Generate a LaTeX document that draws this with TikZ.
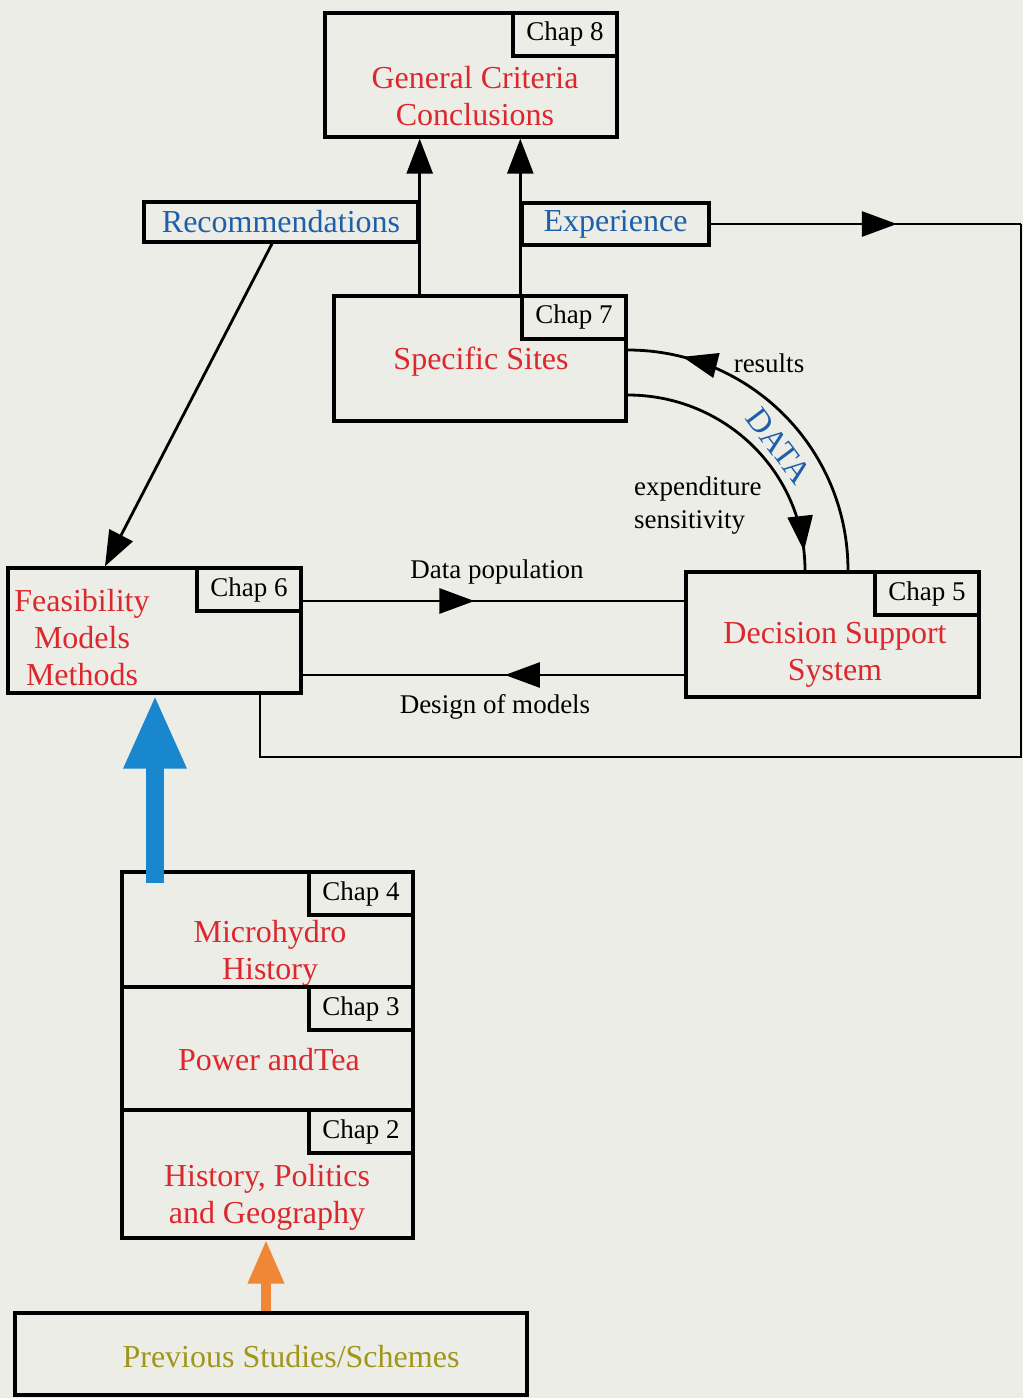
\documentclass[tikz,border=0pt]{standalone}
\usepackage{fontspec}
\setmainfont{Liberation Serif}
\usetikzlibrary{positioning,arrows.meta,decorations.markings}
\definecolor{paper}{RGB}{237,237,231}
\definecolor{titlered}{RGB}{220,40,45}
\definecolor{noteblue}{RGB}{30,95,170}
\definecolor{bigblue}{RGB}{25,135,205}
\definecolor{bigorange}{RGB}{240,135,55}
\definecolor{olive}{RGB}{160,150,25}

\begin{document}
\begin{tikzpicture}[x=0.5pt, y=-0.5pt,
	box/.style = {draw, line width=1.7pt, inner sep=0pt},
	chap/.style = {draw, line width=1.7pt, inner sep=0pt, minimum width=52pt, minimum height=21.5pt, font=\fontsize{13.5}{16}\selectfont},
	title/.style = {align=center, text=titlered, font=\fontsize{16}{18.5}\selectfont},
	note/.style = {box, text=noteblue, font=\fontsize{16}{18.5}\selectfont},
	lbl/.style = {font=\fontsize{13.5}{16.5}\selectfont},
	conn/.style = {line width=1.4pt},
	flow/.style = {conn, -{Triangle[length=17.5pt, width=13pt]}},
	mid/.style = {conn, postaction={decorate}, decoration={markings, mark=at position #1 with {\arrow{Triangle[length=17.5pt, width=12.5pt]}}}},
	midback/.style = {conn, postaction={decorate}, decoration={markings, mark=at position #1 with {\arrowreversed{Triangle[length=17.5pt, width=12.5pt]}}}}]
	\fill[paper] (0,0) rectangle (1023,1398);
	\useasboundingbox (0,0) rectangle (1023,1398);

	\node[box, minimum width=146pt, minimum height=62pt] (c8) at (471,75) {};
	\node[chap] (k8) [below left=0pt of c8.north east] {Chap 8};
	\node[title] (t8) at (475,96) {General Criteria\\Conclusions};

	\node[note, minimum width=137pt, minimum height=20pt] (rec) at (281,222) {Recommendations};
	\node[note, minimum width=93.5pt, minimum height=21pt] (exp) at (615.5,224) {Experience};

	\node[box, minimum width=146pt, minimum height=62.5pt] (c7) at (480,358.5) {};
	\node[chap] (k7) [below left=0pt of c7.north east] {Chap 7};
	\node[title] (t7) at (481,362) {Specific Sites};

	\node[box, minimum width=146.5pt, minimum height=62.5pt] (c6) at (154.5,630.5) {};
	\node[chap] (k6) [below left=0pt of c6.north east] {Chap 6};
	\node[title] (t6) at (82,638) {Feasibility\\Models\\Methods};

	\node[box, minimum width=146.5pt, minimum height=62.5pt] (c5) at (832.5,634.5) {};
	\node[chap] (k5) [below left=0pt of c5.north east] {Chap 5};
	\node[title] (t5) at (835,655) {Decision Support\\System};

	\node[box, minimum width=145.5pt, minimum height=57.5pt] (c4) at (267.5,929.5) {};
	\node[chap] (k4) [below left=0pt of c4.north east] {Chap 4};
	\node[title] (t4) at (270,953) {Microhydro\\History};

	\node[box, minimum width=145.5pt, minimum height=61.5pt] (c3) at (267.5,1048.5) {};
	\node[chap] (k3) [below left=0pt of c3.north east] {Chap 3};
	\node[title] (t3) at (269,1060) {Power andTea};

	\node[box, minimum width=145.5pt, minimum height=64pt] (c2) at (267.5,1174) {};
	\node[chap] (k2) [below left=0pt of c2.north east] {Chap 2};
	\node[title] (t2) at (267,1197) {History, Politics\\and Geography};

	\node[box, minimum width=256pt, minimum height=41pt] (prev) at (271,1354) {};
	\node[title, text=olive] (tp) at (291,1357) {Previous Studies/Schemes};

	\draw[flow] (c7.north -| rec.east) -- (c8.south -| rec.east);
	\draw[flow] (c7.north -| exp.west) -- (c8.south -| exp.west);

	\coordinate (ne) at (exp.east -| 1021,0);
	\coordinate (se) at (1021,757);
	\coordinate (sw) at (260,757);
	\draw[mid=0.6] (exp.east) -- (ne);
	\draw[conn] (ne) -- (se) -- (sw) -- (c6.south -| sw);

	\draw[mid=0.45] (c6.east |- 0,601) -- (c5.west |- 0,601);
	\draw[mid=0.47] (c5.west |- 0,675) -- (c6.east |- 0,675);
	\node[lbl] (dpop) at (497,572) {Data population};
	\node[lbl] (dmod) at (495,707) {Design of models};

	\draw[midback=0.16] (c7.east |- 0,350) to[out=0, in=90] (c5.north -| 848,0);
	\draw[mid=0.93] (c7.east |- 0,395) to[out=0, in=90] (c5.north -| 805,0);
	\node[lbl] (res) at (769,363) {results};
	\node[text=noteblue, rotate=-53, font=\fontsize{16.5}{18}\selectfont] (data) at (779,446) {DATA};
	\node[lbl, align=left, anchor=west] (exps) at (627,506) {expenditure\\sensitivity};

	\draw[flow] (rec.south -| 272,0) -- (c6.north -| 105,0);

	\coordinate (bb) at (155,883);
	\draw[line width=9pt, bigblue, -{Triangle[length=37pt, width=29pt]}] (bb) -- (c6.south -| bb);
	\draw[line width=5pt, bigorange, -{Triangle[length=22pt, width=17pt]}] (prev.north -| 266,0) -- (c2.south -| 266,0);
\end{tikzpicture}
\end{document}
